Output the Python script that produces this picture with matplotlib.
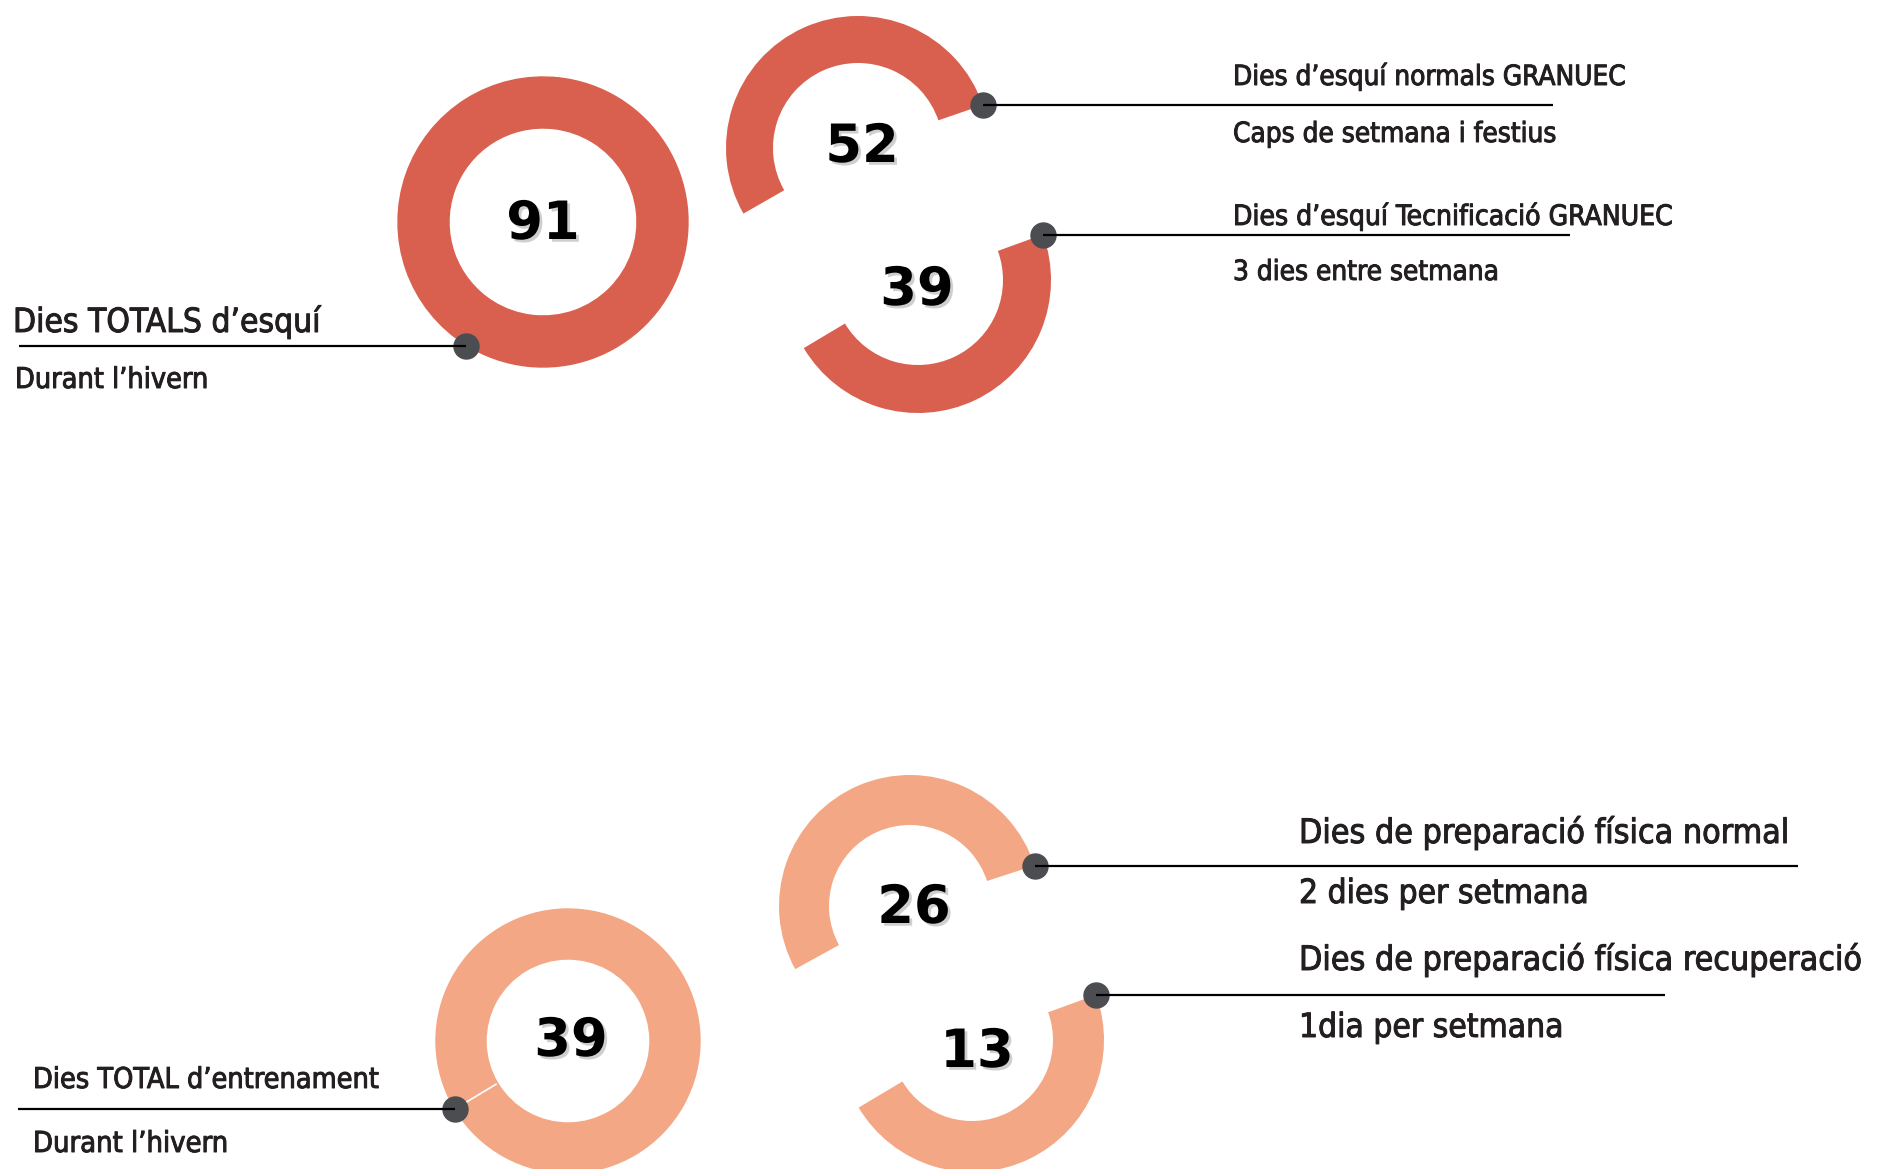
import matplotlib
matplotlib.use("Agg")
import numpy as np
import matplotlib.pyplot as plt
import matplotlib.patheffects as pe

W, H = 1898, 1169

# valors
ski_days = [91, 52, 39]
ski_labels = ["Dies TOTALS d\u2019esquí", "Dies d\u2019esquí normals GRANUEC",
              "Dies d\u2019esquí Tecnificació GRANUEC"]
ski_notes = ["Durant l\u2019hivern", "Caps de setmana i festius", "3 dies entre setmana"]

fit_days = [39, 26, 13]
fit_labels = ["Dies TOTAL d\u2019entrenament", "Dies de preparació física normal",
              "Dies de preparació física recuperació"]
fit_notes = ["Durant l\u2019hivern", "2 dies per setmana", "1dia per setmana"]

# part de l'anell que es veu als anells parcials (llegit del dibuix, %)
ring_fill = [53, 47]

RED = "#d9604f"
SALMON = "#f4a784"
DOT = "#4b4d51"
TXT = "#231f20"


def up(y):
    # coordenades d'imatge (y cap avall) -> eix (y cap amunt)
    return H - y


fig = plt.figure(figsize=(W / 100, H / 100), dpi=100)
ax = fig.add_axes([0, 0, 1, 1])

TXT_FONT = dict(family="DejaVu Sans", fontstretch="condensed", color=TXT, va="baseline",
                path_effects=[pe.withStroke(linewidth=0.7, foreground=TXT)])
NUM_FONT = dict(family="DejaVu Sans", fontweight="bold", fontsize=38, color="black",
                ha="center", va="center",
                path_effects=[pe.withSimplePatchShadow(offset=(2, -2), shadow_rgbFace="#777777", alpha=0.35)])


def ring(values, colors, cx, cy, r, w, start, ccw=True, seam=False):
    wp = dict(width=w, linewidth=0)
    if seam:
        # anell complet: sense junta visible entre porcions
        wp = dict(width=w, linewidth=1.0, edgecolor=colors[0])
    ax.pie(values, colors=colors, startangle=start, counterclock=ccw, radius=r,
           center=(cx, up(cy)), wedgeprops=wp, frame=True)


def dot_line(cx, cy, r, ang, x_end):
    a = np.deg2rad(ang)
    dx = cx + r * np.cos(a)
    dy = up(cy) + r * np.sin(a)
    ax.plot([dx], [dy], "o", ms=18, color=DOT, zorder=5)
    ax.plot([dx, x_end], [dy, dy], color="black", lw=1.6, zorder=6, solid_capstyle="butt")


# ---- esquí ----
# total
ring(ski_days[1:], [RED, RED], 543, 222, 145, 51, 238, seam=True)
ax.text(543, up(224), str(ski_days[0]), **NUM_FONT)
dot_line(543, 222, 146, 238, 19)

# normals
ring(ring_fill, [RED, "none"], 858, 148, 132, 47, 19, ccw=True)
ax.text(862, up(147), str(ski_days[1]), **NUM_FONT)
dot_line(858, 148, 132, 19, 1553)

# tecnificacio
ring(ring_fill[::-1], [RED, "none"], 918, 280, 133, 48, 20, ccw=False)
ax.text(917, up(290), str(ski_days[2]), **NUM_FONT)
dot_line(918, 280, 133, 20, 1570)

# ---- preparacio fisica ----
ring(fit_days[1:], [SALMON, SALMON], 568, 1041, 132, 50, 211, seam=True)
a = np.deg2rad(211)
ax.plot([568 + 84 * np.cos(a), 568 + 130 * np.cos(a)],
        [up(1041) + 84 * np.sin(a), up(1041) + 130 * np.sin(a)], color="white", lw=1.2, zorder=3)
ax.text(571, up(1041), str(fit_days[0]), **NUM_FONT)
dot_line(568, 1041, 132, 211, 18)

ring(ring_fill, [SALMON, "none"], 910, 906, 131, 50, 18, ccw=True)
ax.text(914, up(908), str(fit_days[1]), **NUM_FONT)
dot_line(910, 906, 131, 18, 1798)

ring(ring_fill[::-1], [SALMON, "none"], 972, 1040, 132, 51, 20, ccw=False)
ax.text(977, up(1052), str(fit_days[2]), **NUM_FONT)
dot_line(972, 1040, 132, 20, 1665)

# ---- textos ----
ax.text(13, up(332), ski_labels[0], fontsize=24, **TXT_FONT)
ax.text(15, up(388), ski_notes[0], fontsize=20.6, **TXT_FONT)
ax.text(1233, up(85), ski_labels[1], fontsize=20, **TXT_FONT)
ax.text(1233, up(142), ski_notes[1], fontsize=20, **TXT_FONT)
ax.text(1233, up(225), ski_labels[2], fontsize=20.2, **TXT_FONT)
ax.text(1233, up(280), ski_notes[2], fontsize=20, **TXT_FONT)

ax.text(33, up(1088), fit_labels[0], fontsize=20.6, **TXT_FONT)
ax.text(33, up(1152), fit_notes[0], fontsize=20.8, **TXT_FONT)
ax.text(1299, up(843), fit_labels[1], fontsize=24.3, **TXT_FONT)
ax.text(1299, up(903), fit_notes[1], fontsize=24.0, **TXT_FONT)
ax.text(1299, up(970), fit_labels[2], fontsize=24.3, **TXT_FONT)
ax.text(1299, up(1037), fit_notes[2], fontsize=24.0, **TXT_FONT)

ax.set_xlim(0, W)
ax.set_ylim(0, H)
ax.set_aspect("auto")
ax.axis("off")

fig.savefig("out.png", dpi=100, facecolor="white")
